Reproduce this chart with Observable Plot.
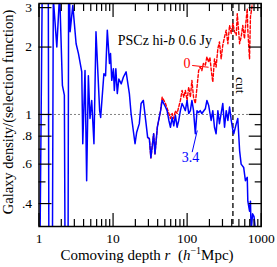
<!DOCTYPE html>
<html><head><meta charset="utf-8">
<script src="https://cdn.jsdelivr.net/npm/d3@7"></script>
<script src="https://cdn.jsdelivr.net/npm/@observablehq/plot@0.6"></script>
<style>body{margin:0;background:#fff}</style>
</head><body><div id="chart"></div>
<script>
// blue series (selection-function exponent 3.4): comoving depth r, density ratio
const blueR = [1.0,1.12,1.33,1.37,1.50,1.56,1.74,1.90,2.07,2.20,2.28,2.45,2.52,2.63,2.86,3.17,3.41,3.78,3.90,4.18,4.40,4.64,4.88,5.15,5.52,5.88,6.59,6.80,7.52,7.92,8.36,8.95,9.24,9.60,10.1,10.4,10.9,11.4,11.97,12.9,13.8,15.0,16.6,17.5,19.0,19.8,20.8,22.6,23.9,25.6,27.9,29.3,30.9,32.4,35.3,36.8,39.6,43.8,46.0,51.0,53.6,56.7,59.6,62.8,66.0,69.5,73.2,77.0,81.1,85.5,90.0,94.6,99.8,105,110.6,116,122,129,136,143,150,158,176,185,195,211,222,234,246,260,273,288,303,320,337,355,374,394,415,426,461,483,511,536,580,612,648,660,696,716,731,765,800,840,870];
const blueV = [0.08,6,6,0.08,0.08,3.3,2.0,3.5,1.35,1.22,0.08,0.08,6,2.34,3.07,2.07,1.87,1.55,0.74,1.57,0.506,1.49,0.96,1.155,0.74,2.34,1.04,0.97,1.52,1.49,2.38,1.69,1.87,1.42,1.60,1.28,1.60,1.24,1.44,1.37,1.47,1.55,1.24,1.01,0.82,0.74,0.83,0.91,1.12,1.155,0.91,0.79,0.78,0.64,0.82,0.667,0.877,1.04,1.155,1.08,1.04,0.94,0.877,0.97,0.89,0.99,0.877,0.94,1.04,1.12,1.08,1.04,1.155,1.01,1.04,1.155,1.04,0.82,1.04,1.02,1.04,1.01,1.06,1.155,1.10,0.94,1.04,0.877,0.82,1.04,0.91,1.01,1.12,0.877,1.04,0.94,1.08,0.94,0.85,0.82,0.91,0.96,0.69,0.60,0.58,0.506,0.524,0.41,0.37,0.41,0.30,0.36,0.35,0.30,0.25];
// red series (exponent 0)
const redR = [29.3,30.9,32.4,35.3,36.8,39.6,43.8,46.0,51.0,56.7,59.6,62.8,66.0,69.5,73.2,77.0,81.1,85.5,90.0,94.6,99.8,105,110.6,116,122,129,136,143,150,158,166,176,185,195,203,213,222,234,246,260,273,288,303,320,337,355,374,394,415,437,461,475,511,536,564,594,625,648,660,680,696,716,745,780];
const redV = [0.79,0.78,0.64,0.82,0.667,0.877,1.04,1.195,1.12,1.01,0.96,1.01,0.96,1.04,1.01,1.08,1.155,1.28,1.195,1.28,1.155,1.325,1.195,1.42,1.195,1.12,1.325,1.57,1.63,1.57,1.69,1.66,1.81,1.71,1.80,1.55,1.395,1.77,1.63,1.97,2.11,1.77,2.04,2.22,2.38,2.07,2.50,2.30,2.55,2.34,2.26,2.82,2.07,2.22,2.50,2.18,2.63,2.97,2.38,2.0,1.77,2.73,2.97,3.5];
const cutR = [415];
const xMajor = [1, 10, 100, 1000];
const xMinor = [2,3,4,5,6,7,8,9,20,30,40,50,60,70,80,90,200,300,400,500,600,700,800,900];
const yMajor = [0.4, 0.6, 0.8, 1, 2, 3];
const yMajorLabels = [".4", ".6", ".8", "1", "2", "3"];
const yMinor = [0.5, 0.7, 0.9];
const labels = [
  {r: 50, v: 2.14, text: "PSCz hi-b 0.6 Jy", color: "black"},
  {r: 99.7, v: 1.68, text: "0", color: "#ff0000"},
  {r: 111, v: 0.643, text: "3.4", color: "#0000ff"}
];
const pointers = [
  {r1: 117, v1: 1.655, r2: 195, v2: 1.625, color: "#ff0000"},
  {r1: 117, v1: 0.679, r2: 137, v2: 0.848, color: "#0000ff"}
];
const cutLabel = [{r: 525, v: 1.35, text: "cut"}];

const blue = blueR.map((r, i) => ({r, v: blueV[i]}));
const red = redR.map((r, i) => ({r, v: redV[i]}));
const yTickData = yMajor.map((v, i) => ({v, label: yMajorLabels[i]}));
const none = () => "";

const plot = Plot.plot({
  width: 277, height: 267,
  marginLeft: 38.5, marginRight: 16.3, marginTop: 3, marginBottom: 41,
  style: {fontFamily: "'Liberation Serif', 'Times New Roman', serif", fontSize: "13.5px", background: "white", color: "black"},
  x: {type: "log", domain: [1, 1000]},
  y: {type: "log", domain: [0.316, 3.13]},
  marks: [
    Plot.ruleY([1], {stroke: "black", strokeWidth: 1, strokeDasharray: "1,3"}),
    Plot.ruleX(cutR, {stroke: "#222", strokeWidth: 1.5, strokeDasharray: "5,3"}),
    Plot.line(red, {x: "r", y: "v", stroke: "#ff0000", strokeWidth: 1.4, strokeDasharray: "3,2", clip: true}),
    Plot.line(blue, {x: "r", y: "v", stroke: "#0000ff", strokeWidth: 1.5, clip: true}),
    Plot.link(pointers, {x1: "r1", y1: "v1", x2: "r2", y2: "v2", stroke: "color", strokeWidth: 1}),
    Plot.text(labels, {x: "r", y: "v", text: "text", fill: "color", fontSize: 14}),
    Plot.text(cutLabel, {x: "r", y: "v", text: "text", rotate: 90, fontSize: 13.5}),
    Plot.axisX(xMajor, {anchor: "bottom", tickSize: -13, tickPadding: 20, tickFormat: d => String(d), label: null, strokeWidth: 1.2}),
    Plot.axisX(xMinor, {anchor: "bottom", tickSize: -7, tickFormat: none, label: null, strokeWidth: 1.2}),
    Plot.axisX(xMajor, {anchor: "top", tickSize: -13, tickFormat: none, label: null, strokeWidth: 1.2}),
    Plot.axisX(xMinor, {anchor: "top", tickSize: -7, tickFormat: none, label: null, strokeWidth: 1.2}),
    Plot.axisY(yMajor, {anchor: "left", tickSize: -13, tickFormat: none, label: null, strokeWidth: 1.2}),
    Plot.text(yTickData, {y: "v", text: "label", frameAnchor: "left", textAnchor: "end", dx: -7, fontSize: 13.5}),
    Plot.axisY(yMinor, {anchor: "left", tickSize: -7, tickFormat: none, label: null, strokeWidth: 1.2}),
    Plot.axisY(yMajor, {anchor: "right", tickSize: -13, tickFormat: none, label: null, strokeWidth: 1.2}),
    Plot.axisY(yMinor, {anchor: "right", tickSize: -7, tickFormat: none, label: null, strokeWidth: 1.2}),
    Plot.frame({stroke: "black", strokeWidth: 1.5})
  ]
});
document.getElementById("chart").appendChild(plot);

const svg = d3.select(plot);
// italic "b" in the annotation
svg.selectAll("text").each(function() {
  if (this.textContent === "PSCz hi-b 0.6 Jy") {
    const t = d3.select(this);
    t.text("");
    t.append("tspan").text("PSCz hi-");
    t.append("tspan").attr("font-style", "italic").text("b");
    t.append("tspan").text(" 0.6\u00a0Jy");
  }
});
const font = "'Liberation Serif', 'Times New Roman', serif";
const xt = svg.append("text").attr("x", 147).attr("y", 260).attr("text-anchor", "middle")
  .attr("font-family", font).attr("font-size", 15).attr("fill", "black");
xt.append("tspan").text("Comoving depth ");
xt.append("tspan").attr("font-style", "italic").text("r");
xt.append("tspan").text("\u00a0\u00a0(");
xt.append("tspan").attr("font-style", "italic").text("h");
xt.append("tspan").attr("font-size", 10).attr("dy", -6).text("\u22121");
xt.append("tspan").attr("dy", 6).text("Mpc)");
svg.append("text").attr("transform", "translate(12.5,112) rotate(-90)").attr("text-anchor", "middle")
  .attr("font-family", font).attr("font-size", 14.5).attr("fill", "black")
  .text("Galaxy density/(selection function)");
</script></body></html>
